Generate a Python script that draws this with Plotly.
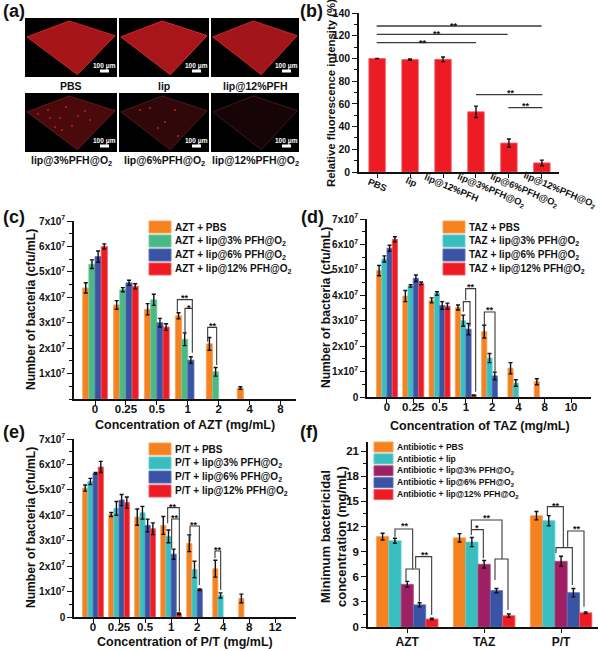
import plotly.graph_objects as go

W, H = 600, 651
FONT = "Liberation Sans"

# ---------- data ----------
b_categories = ["PBS", "lip", "lip@12%PFH", "lip@3%PFH@O<sub>2</sub>", "lip@6%PFH@O<sub>2</sub>", "lip@12%PFH@O<sub>2</sub>"]
b_values = [100, 99, 99.2, 53, 25.5, 8]
b_errors = [0, 0.6, 2, 5, 3.5, 2.5]

c_categories = ["0", "0.25", "0.5", "1", "2", "4", "8"]
c_pbs = [4.37, 3.70, 3.53, 3.27, 2.17, 0.43, None]
c_pbs_err = [0.2, 0.17, 0.22, 0.12, 0.25, 0.05, None]
c_3 = [5.30, 4.30, 3.90, 2.35, 1.07, None, None]
c_3_err = [0.17, 0.08, 0.22, 0.25, 0.17, None, None]
c_6 = [5.60, 4.57, 3.00, 1.53, None, None, None]
c_6_err = [0.22, 0.10, 0.17, 0.13, None, None, None]
c_12 = [6.00, 4.43, 2.83, None, None, None, None]
c_12_err = [0.1, 0.1, 0.13, None, None, None, None]

d_categories = ["0", "0.25", "0.5", "1", "2", "4", "8", "10"]
d_pbs = [4.97, 3.97, 3.80, 3.52, 2.57, 1.13, 0.60, None]
d_pbs_err = [0.2, 0.22, 0.1, 0.1, 0.25, 0.22, 0.12, None]
d_3 = [5.43, 4.37, 4.07, 3.00, 1.53, 0.55, None, None]
d_3_err = [0.12, 0.05, 0.07, 0.22, 0.18, 0.13, None, None]
d_6 = [5.85, 4.67, 3.60, 2.67, 0.83, None, None, None]
d_6_err = [0.12, 0.13, 0.15, 0.22, 0.15, None, None, None]
d_12 = [6.20, 4.47, 3.57, 0.07, None, None, None, None]
d_12_err = [0.1, 0.05, 0.12, 0.01, None, None, None, None]

e_categories = ["0", "0.25", "0.5", "1", "2", "4", "8", "12"]
e_pbs = [5.07, 4.03, 3.93, 3.60, 2.90, 1.90, 0.73, None]
e_pbs_err = [0.12, 0.08, 0.32, 0.35, 0.33, 0.33, 0.17, None]
e_3 = [5.33, 4.27, 4.10, 3.17, 1.87, 0.85, None, None]
e_3_err = [0.12, 0.27, 0.25, 0.25, 0.32, 0.1, None, None]
e_6 = [5.65, 4.60, 3.60, 2.47, 1.07, None, None, None]
e_6_err = [0.03, 0.22, 0.25, 0.2, 0.03, None, None, None]
e_12 = [5.90, 4.50, 3.47, 0.13, None, None, None, None]
e_12_err = [0.22, 0.22, 0.23, 0.03, None, None, None, None]

f_categories = ["AZT", "TAZ", "P/T"]
f_pbs = [10.8, 10.65, 13.3]
f_pbs_err = [0.4, 0.5, 0.5]
f_lip = [10.3, 10.15, 12.7]
f_lip_err = [0.3, 0.55, 0.6]
f_3 = [5.1, 7.5, 7.85]
f_3_err = [0.35, 0.45, 0.6]
f_6 = [2.65, 4.35, 4.1]
f_6_err = [0.25, 0.25, 0.5]
f_12 = [0.95, 1.35, 1.7]
f_12_err = [0.1, 0.2, 0.1]

bacteria_ticks = [1, 2, 3, 4, 5, 6, 7]
mbc_ticks = [0, 3, 6, 9, 12, 15, 18, 21]
fluor_ticks = [0, 20, 40, 60, 80, 100, 120, 140]

ORANGE, GREEN, TEAL, BLUE, RED, PURPLE = "#F5821F", "#4CB985", "#39BEC0", "#3A53A4", "#ED1C24", "#9E1F63"
EDGE = {ORANGE: "#F9A15A", GREEN: "#6FCBA0", TEAL: "#62CFD0", BLUE: "#5A70B8", RED: "#F25A60", PURPLE: "#B4527F"}

fig = go.Figure()


def X(p):
    return p / W


def Y(p):
    return 1 - p / H


shapes = []
annotations = []


def text(x, y, s, size=11, anchor="center", angle=0, color="#111"):
    annotations.append(dict(x=X(x), y=Y(y), xref="paper", yref="paper", text="<b>" + s + "</b>", showarrow=False,
                            xanchor=anchor, yanchor="middle", textangle=angle, borderpad=0,
                            font=dict(size=size, family=FONT, color=color)))


def rect(x0, y0, x1, y1, fill, line=None):
    shapes.append(dict(type="rect", xref="paper", yref="paper", x0=X(x0), x1=X(x1), y0=Y(y0), y1=Y(y1),
                       fillcolor=fill, line=dict(width=1 if line else 0, color=line or fill)))


def poly(points, fill=None, color="#333", width=1.1, close=False):
    d = "M" + " L".join(f"{X(px):.5f},{Y(py):.5f}" for px, py in points) + (" Z" if close else "")
    s = dict(type="path", xref="paper", yref="paper", path=d, line=dict(width=width, color=color))
    if fill:
        s["fillcolor"] = fill
    shapes.append(s)


def axis_setup(n, px0, px1, py_top, py_bot, xr, yr, cats, tickvals, ticktext, xsize=11.5, ysize=10,
               minor=None, xshow=True, lab_shift=-6):
    xk = "xaxis" if n == 1 else f"xaxis{n}"
    yk = "yaxis" if n == 1 else f"yaxis{n}"
    xa = "x" if n == 1 else f"x{n}"
    ya = "y" if n == 1 else f"y{n}"
    fig.layout[xk] = dict(domain=[X(px0), X(px1)], range=xr, anchor=ya, type="category", automargin=False,
                          categoryorder="array", categoryarray=cats, tickmode="array",
                          tickvals=cats, ticktext=cats, showticklabels=xshow, ticklabelstandoff=lab_shift,
                          showline=True, linecolor="#111", linewidth=1.5, ticks="outside", ticklen=4, tickwidth=1.3,
                          tickcolor="#111", showgrid=False, zeroline=False,
                          tickfont=dict(size=xsize, family=FONT, weight=700, color="#111"))
    m = dict(ticks="outside", ticklen=3, tickwidth=1.2, tickcolor="#111", dtick=minor, showgrid=False) if minor else None
    fig.layout[yk] = dict(domain=[Y(py_bot), Y(py_top)], range=yr, anchor=xa, tickmode="array", automargin=False,
                          tickvals=tickvals, ticktext=ticktext,
                          showline=True, linecolor="#111", linewidth=1.5, ticks="outside", ticklen=5, tickwidth=1.3,
                          tickcolor="#111", showgrid=False, zeroline=False,
                          tickfont=dict(size=ysize, family=FONT, weight=700, color="#111"))
    if m:
        fig.layout[yk].minor = m
    return xa, ya


def bars(xa, ya, cats, vals, errs, color, name, width=None):
    fig.add_trace(go.Bar(x=cats, y=vals, name=name, xaxis=xa, yaxis=ya, width=width,
                         marker=dict(color=color, line=dict(color=EDGE[color], width=0.8)),
                         error_y=dict(type="data", array=errs, visible=True, color="#111", thickness=1.4, width=2),
                         showlegend=False))


def legend(px, py, dy, swatch_w, swatch_h, entries, size, gap=3):
    for i, (c, label) in enumerate(entries):
        y = py + i * dy
        rect(px, y - swatch_h / 2, px + swatch_w, y + swatch_h / 2, c, EDGE[c])
        text(px + swatch_w + gap, y, label, size=size, anchor="left")


# ---------- panel (b) ----------
xa, ya = axis_setup(1, 359, 559, 13, 172, [-0.55, 5.52], [0, 140], b_categories, fluor_ticks,
                    [str(v) for v in fluor_ticks], minor=10, xshow=False, ysize=10.5)
bars(xa, ya, b_categories, b_values, b_errors, RED, "Relative fluorescence", width=0.5)
for (cx, cy, lab) in [(377, 184, 0), (411, 181.5, 1), (452, 187, 2), (491, 190, 3), (524, 190, 4), (560, 190, 5)]:
    text(cx, cy, b_categories[lab], size=9.4, angle=23)
text(331, 93, "Relative fluorescence intensity (%)", size=11.4, angle=-90)

# ---------- panel (c) ----------
bacteria_text = [f"{v}x10<sup>7</sup>" for v in bacteria_ticks]
xa, ya = axis_setup(2, 74, 296, 221, 399, [-0.68, 6.5], [0, 7], c_categories, bacteria_ticks, bacteria_text, minor=0.5)
for vals, errs, col, nm in [(c_pbs, c_pbs_err, ORANGE, "AZT + PBS"), (c_3, c_3_err, GREEN, "AZT + lip@3% PFH@O2"),
                            (c_6, c_6_err, BLUE, "AZT + lip@6% PFH@O2"), (c_12, c_12_err, RED, "AZT + lip@12% PFH@O2")]:
    bars(xa, ya, c_categories, vals, errs, col, nm)
text(31, 310, "Number of bacteria (cfu/mL)", size=12.1, angle=-90)
text(185, 425, "Concentration of AZT (mg/mL)", size=12.5)

# ---------- panel (d) ----------
xa, ya = axis_setup(3, 367, 591, 219, 397, [-0.76, 7.76], [0, 7], d_categories, [0] + bacteria_ticks,
                    ["0"] + bacteria_text, minor=0.5)
for vals, errs, col, nm in [(d_pbs, d_pbs_err, ORANGE, "TAZ + PBS"), (d_3, d_3_err, TEAL, "TAZ + lip@3% PFH@O2"),
                            (d_6, d_6_err, BLUE, "TAZ + lip@6% PFH@O2"), (d_12, d_12_err, RED, "TAZ + lip@12% PFH@O2")]:
    bars(xa, ya, d_categories, vals, errs, col, nm)
text(326, 308, "Number of bacteria (cfu/mL)", size=12.1, angle=-90)
text(480, 426, "Concentration of TAZ (mg/mL)", size=12.5)

# ---------- panel (e) ----------
xa, ya = axis_setup(4, 74, 296, 439, 617, [-0.73, 7.8], [0, 7], e_categories, [0] + bacteria_ticks,
                    ["0"] + bacteria_text, minor=0.5)
for vals, errs, col, nm in [(e_pbs, e_pbs_err, ORANGE, "P/T + PBS"), (e_3, e_3_err, TEAL, "P/T + lip@3% PFH@O2"),
                            (e_6, e_6_err, BLUE, "P/T + lip@6% PFH@O2"), (e_12, e_12_err, RED, "P/T + lip@12% PFH@O2")]:
    bars(xa, ya, e_categories, vals, errs, col, nm)
text(31, 528, "Number of bacteria (cfu/mL)", size=12.1, angle=-90)
text(185, 642, "Concentration of P/T (mg/mL)", size=12.5)

# ---------- panel (f) ----------
xa, ya = axis_setup(5, 368, 598, 442, 627, [-0.51, 2.48], [0, 22.1], f_categories, mbc_ticks,
                    [str(v) for v in mbc_ticks], xsize=12, ysize=11.5, minor=1.5, lab_shift=-1)
for vals, errs, col, nm in [(f_pbs, f_pbs_err, ORANGE, "Antibiotic + PBS"), (f_lip, f_lip_err, TEAL, "Antibiotic + lip"),
                            (f_3, f_3_err, PURPLE, "Antibiotic + lip@3% PFH@O2"),
                            (f_6, f_6_err, BLUE, "Antibiotic + lip@6% PFH@O2"),
                            (f_12, f_12_err, RED, "Antibiotic + lip@12% PFH@O2")]:
    bars(xa, ya, f_categories, vals, errs, col, nm)
text(325, 537, "Minimum bactericidal", size=13, angle=-90)
text(341, 537, "concentration (mg/mL)", size=13, angle=-90)

# ---------- legends ----------
O2 = "PFH@O<sub>2</sub>"
legend(149, 227, 14, 22, 12, [(ORANGE, "AZT + PBS"), (GREEN, f"AZT + lip@3% {O2}"), (BLUE, f"AZT + lip@6% {O2}"),
                              (RED, f"AZT + lip@12% {O2}")], 10)
legend(443, 227, 14, 22, 12, [(ORANGE, "TAZ + PBS"), (TEAL, f"TAZ + lip@3% {O2}"), (BLUE, f"TAZ + lip@6% {O2}"),
                              (RED, f"TAZ + lip@12% {O2}")], 10)
legend(149, 449, 14, 22, 12, [(ORANGE, "P/T + PBS"), (TEAL, f"P/T + lip@3% {O2}"), (BLUE, f"P/T + lip@6% {O2}"),
                              (RED, f"P/T + lip@12% {O2}")], 10)
legend(374, 447, 11.9, 19, 10, [(ORANGE, "Antibiotic + PBS"), (TEAL, "Antibiotic + lip"),
                                (PURPLE, f"Antibiotic + lip@3% {O2}"), (BLUE, f"Antibiotic + lip@6% {O2}"),
                                (RED, f"Antibiotic + lip@12% {O2}")], 8.5)

# ---------- significance brackets ----------
GREY = "#3a3a3a"


def zoom_pts(ox, oy, pts):
    return [(ox + a / 3, oy + b / 3) for a, b in pts]


def star(ox, oy, zx, zy, s="**", size=9):
    text(ox + zx / 3, oy + zy / 3 + 2, s, size=size)


# (b)
for y, a, c, sx, sy in [(78, 170, 665, 403, 72), (103, 170, 563, 352, 97), (128, 170, 468, 310, 122),
                        (284, 468, 667, 572, 274), (323, 565, 667, 617, 313)]:
    poly(zoom_pts(320, 0, [(a, y), (c, y)]), color=GREY, width=1.3)
    star(320, 0, sx, sy)
# (c)
for pts in [[(532, 305), (532, 269), (577, 269), (577, 428)], [(555, 375), (555, 295), (577, 295)],
            [(623, 395), (623, 352), (650, 352), (650, 465)]]:
    poly(zoom_pts(0, 210, pts), color=GREY)
star(0, 210, 555, 257)
star(0, 210, 566, 287, "*")
star(0, 210, 638, 341)
# (d)
for pts in [[(497, 270), (497, 236), (527, 236), (527, 545)], [(490, 305), (490, 275), (510, 275), (510, 350)],
            [(553, 360), (553, 306), (585, 306), (585, 485)]]:
    poly(zoom_pts(300, 210, pts), color=GREY)
star(300, 210, 512, 225)
star(300, 210, 570, 295)
# (e)
for pts in [[(503, 295), (503, 248), (538, 248), (538, 560)], [(515, 370), (515, 282), (538, 282)],
            [(570, 350), (570, 303), (598, 303), (598, 480)], [(645, 400), (645, 378), (662, 378), (662, 495)]]:
    poly(zoom_pts(0, 425, pts), color=GREY)
star(0, 425, 520, 240)
star(0, 425, 525, 272)
star(0, 425, 583, 294)
star(0, 425, 653, 370)
# (f)
for pts in [[(285, 335), (285, 312), (338, 312), (338, 432)], [(318, 470), (318, 432), (358, 432), (358, 530)],
            [(347, 430), (347, 395), (395, 395), (395, 570)],
            [(514, 330), (514, 285), (606, 285), (606, 402)], [(514, 314), (550, 314), (550, 400)],
            [(585, 465), (585, 402), (624, 402), (624, 555)],
            [(742, 270), (742, 245), (790, 245), (790, 368)], [(768, 385), (768, 368), (817, 368), (817, 480)],
            [(803, 365), (803, 318), (852, 318), (852, 545)]]:
    poly(zoom_pts(300, 425, pts), color=GREY)
star(300, 425, 315, 298)
star(300, 425, 375, 383)
star(300, 425, 560, 273)
star(300, 425, 530, 303, "*")
star(300, 425, 768, 237)
star(300, 425, 830, 306)

# ---------- panel (a) micrographs ----------
panels = [
    (25, 117, 18, 77, "#A5151A", "#C9262B", [], "PBS"),
    (119, 209, 18, 77, "#A8151A", "#D42A2E", [], "lip"),
    (211, 299, 18, 77, "#A2161B", "#C9262B", [], "lip@12%PFH"),
    (25, 117, 93, 152, "#4A0A0C", "#5E1A1C",
     [(48, 110), (60, 118), (72, 126), (85, 111), (55, 127), (90, 120), (38, 114), (66, 107), (78, 116), (50, 118), (62, 130)],
     "lip@3%PFH@O<sub>2</sub>"),
    (119, 209, 93, 152, "#30080A", "#4A1A1C", [(165, 122), (150, 108), (175, 110), (178, 136), (140, 110), (158, 128)],
     "lip@6%PFH@O<sub>2</sub>"),
    (211, 299, 93, 152, "#170406", "#3C1A1C", [], "lip@12%PFH@O<sub>2</sub>"),
]
for x0, x1, y0, y1, fill, edge, spots, label in panels:
    w, h = x1 - x0, y1 - y0
    rect(x0, y0, x1, y1, "#000000")
    pts = [(x0 + 0.02 * w, y0 + 0.32 * h), (x0 + 0.48 * w, y0 + 0.05 * h),
           (x0 + 0.98 * w, y0 + 0.30 * h), (x0 + 0.57 * w, y0 + 0.96 * h)]
    poly(pts, fill=fill, color=edge, width=1, close=True)
    for sx, sy in spots:
        shapes.append(dict(type="circle", xref="paper", yref="paper", x0=X(sx - 0.9), x1=X(sx + 0.9), y0=Y(sy + 0.9),
                           y1=Y(sy - 0.9), fillcolor="#D81E26", line=dict(width=0)))
    rect(x1 - 17, y1 - 7.5, x1 - 8, y1 - 4.5, "#FFFFFF")
    text(x1 - 12.5, y1 - 11, "100 μm", size=6.5, color="#FFFFFF")
    text((x0 + x1) / 2, y1 + 8.5, label, size=10.5)

# ---------- panel letters ----------
for lab, lx, ly in [("(a)", 14, 11), ("(b)", 311, 11), ("(c)", 14, 217), ("(d)", 312, 217), ("(e)", 14, 432), ("(f)", 309, 432)]:
    text(lx, ly, lab, size=18)

fig.update_layout(width=W, height=H, autosize=False, margin=dict(l=0, r=0, t=0, b=0), barmode="group", bargap=0.2,
                  bargroupgap=0, plot_bgcolor="white", paper_bgcolor="white", showlegend=False,
                  font=dict(family=FONT, color="#111"), shapes=shapes, annotations=annotations)

fig.write_html("out.html", config={"displayModeBar": False}, post_script="document.body.style.margin='0';")
